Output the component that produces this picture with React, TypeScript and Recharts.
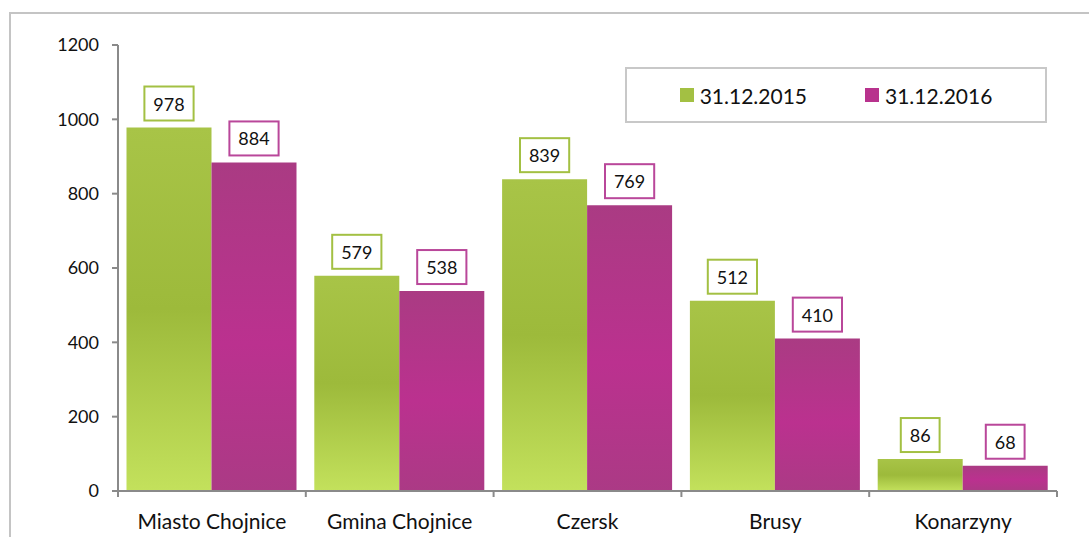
import * as React from 'react'
import { BarChart, Bar, XAxis, YAxis, LabelList } from 'recharts'

const categories = ['Miasto Chojnice', 'Gmina Chojnice', 'Czersk', 'Brusy', 'Konarzyny']
const values2015 = [978, 579, 839, 512, 86]
const values2016 = [884, 538, 769, 410, 68]
const seriesNames = ['31.12.2015', '31.12.2016']
const yTicks = [0, 200, 400, 600, 800, 1000, 1200]

const data = categories.map((name, i) => ({ name, v2015: values2015[i], v2016: values2016[i] }))

const W = 1089
const H = 537
const M = { top: 45, right: 32, bottom: 6, left: 58 }
const Y_W = 60
const PLOT_W = W - M.left - Y_W - M.right
const CAT_W = PLOT_W / categories.length
const FONT = 'Lato, "Open Sans", sans-serif'
const AXIS = '#8a8a8a'

function makeLabel(border: string) {
  return (props: any) => {
    const { x, y, width, value } = props
    const txt = String(value)
    const bw = txt.length * 10.4 + 18
    const bh = 34
    const cx = x + width / 2
    const bottom = y - 7
    return (
      <g>
        <rect x={cx - bw / 2} y={bottom - bh} width={bw} height={bh} fill="#fff" stroke={border} strokeWidth={2} />
        <text x={cx} y={bottom - bh / 2} textAnchor="middle" dominantBaseline="central" fontSize={18} fontFamily={FONT} fill="#111">
          {txt}
        </text>
      </g>
    )
  }
}

function CategoryTick(props: any) {
  const { x, y, payload, index } = props
  const left = x - CAT_W / 2
  const right = x + CAT_W / 2
  return (
    <g>
      <line x1={left} x2={left} y1={y} y2={y + 6} stroke={AXIS} strokeWidth={2} />
      {index === categories.length - 1 && (
        <line x1={right} x2={right} y1={y} y2={y + 6} stroke={AXIS} strokeWidth={2} />
      )}
      <text x={x} y={y + 38} textAnchor="middle" fontSize={21} fontFamily={FONT} fill="#111">
        {payload.value}
      </text>
    </g>
  )
}

function LegendBox() {
  const items = [
    { name: seriesNames[0], color: '#a3c043' },
    { name: seriesNames[1], color: '#b8328d' }
  ]
  return (
    <div
      style={{
        position: 'absolute',
        left: 625,
        top: 67,
        width: 418,
        height: 52,
        border: '2px solid #c8c8c8',
        background: '#fff',
        display: 'flex',
        alignItems: 'center',
        justifyContent: 'center',
        gap: 58,
        fontFamily: FONT,
        fontSize: 21,
        color: '#111'
      }}
    >
      {items.map((it) => (
        <div key={it.name} style={{ display: 'flex', alignItems: 'center' }}>
          <span style={{ width: 14, height: 14, background: it.color, display: 'inline-block', marginRight: 6 }} />
          <span>{it.name}</span>
        </div>
      ))}
    </div>
  )
}

export default function App() {
  return (
    <div style={{ position: 'absolute', left: 0, top: 0, width: W, height: H, overflow: 'hidden', background: '#fff' }}>
      <div
        style={{
          position: 'absolute',
          left: 9,
          top: 12,
          width: W,
          height: H,
          borderTop: '2px solid #c4c4c4',
          borderLeft: '2px solid #c4c4c4'
        }}
      />
      <div style={{ position: 'absolute', left: 0, top: 0 }}>
        <BarChart width={W} height={H} data={data} margin={M} barGap={0} barCategoryGap={8.5}>
          <defs>
            <linearGradient id="gGreen" x1="0" y1="0" x2="0" y2="1">
              <stop offset="0%" stopColor="#a8c447" />
              <stop offset="50%" stopColor="#9dba3b" />
              <stop offset="100%" stopColor="#c3e15c" />
            </linearGradient>
            <linearGradient id="gMagenta" x1="0" y1="0" x2="0" y2="1">
              <stop offset="0%" stopColor="#aa3b83" />
              <stop offset="55%" stopColor="#bb318f" />
              <stop offset="100%" stopColor="#ab3a85" />
            </linearGradient>
          </defs>
          <XAxis
            dataKey="name"
            stroke={AXIS}
            strokeWidth={2}
            tickLine={false}
            tickSize={0}
            tickMargin={0}
            height={40}
            interval={0}
            tick={<CategoryTick />}
          />
          <YAxis
            width={Y_W}
            domain={[0, 1200]}
            ticks={yTicks}
            interval={0}
            stroke={AXIS}
            strokeWidth={2}
            tickSize={6}
            tickMargin={13}
            tick={{ fontSize: 18, fontFamily: FONT, fill: '#111' }}
          />
          <Bar dataKey="v2015" name={seriesNames[0]} fill="url(#gGreen)" isAnimationActive={false}>
            <LabelList dataKey="v2015" content={makeLabel('#a3c043')} />
          </Bar>
          <Bar dataKey="v2016" name={seriesNames[1]} fill="url(#gMagenta)" isAnimationActive={false}>
            <LabelList dataKey="v2016" content={makeLabel('#b9479a')} />
          </Bar>
        </BarChart>
      </div>
      <LegendBox />
    </div>
  )
}
